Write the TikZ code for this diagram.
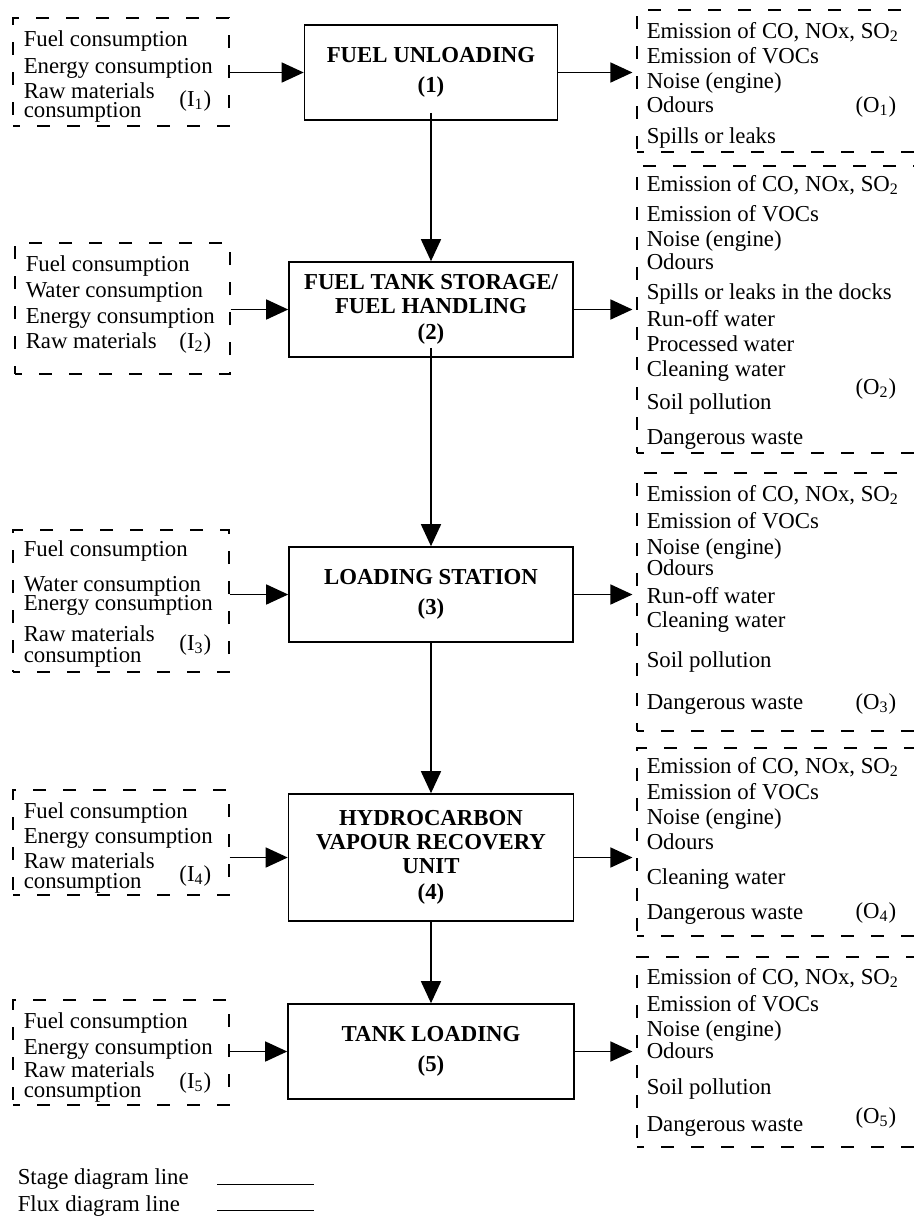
\documentclass[tikz,border=0pt]{standalone}
\usepackage{fontspec}
\setmainfont{Liberation Serif}
\usetikzlibrary{arrows.meta,fit}
\tikzstyle{stage}=[draw,line width=0.8pt,font=\bfseries,align=center,inner sep=0pt]
\tikzstyle{flux}=[draw,line width=0.55pt,dash pattern=on 6.5pt off 8.5pt,dash phase=3pt,inner sep=0pt]
\tikzstyle{item}=[anchor=base west,inner sep=0pt]
\tikzstyle{tag}=[anchor=base east,inner sep=0pt]
\newcommand\emis{Emission of CO, NOx, SO\textsubscript{2}}

\begin{document}
\fontsize{11.4}{13}\selectfont
\begin{tikzpicture}[x=0.5pt,y=-0.5pt,line width=0.75pt,>={Triangle[length=11pt,width=10pt]}]
  \useasboundingbox (0,0) rectangle (914,1217);
  \clip (0,0) rectangle (914,1217);
  % stages
  \node[stage,minimum width=126.5pt,minimum height=47.5pt] (unload) at (431,72.5) {FUEL UNLOADING\\[2pt](1)};
  \node[stage,minimum width=142pt,minimum height=47.5pt] (storage) at (431,309.5) {FUEL TANK STORAGE/\\[-1pt]FUEL HANDLING\\(2)};
  \node[stage,minimum width=142pt,minimum height=47.5pt] (station) at (431,594.5) {LOADING STATION\\[2pt](3)};
  \node[stage,minimum width=142.5pt,minimum height=63.5pt] (recovery) at (431,857.5) {HYDROCARBON\\[-1pt]VAPOUR RECOVERY\\[-1pt]UNIT\\(4)};
  \node[stage,minimum width=143pt,minimum height=47.5pt] (tank) at (431,1051.5) {TANK LOADING\\[2pt](5)};
  % inputs
  \node[flux,fit={(13,18) (229,126)}] (in1) {};
  \node[flux,fit={(15,243) (230,374)}] (in2) {};
  \node[flux,fit={(13,530) (229,672)}] (in3) {};
  \node[flux,fit={(13,790) (229,895)}] (in4) {};
  \node[flux,fit={(13,1000) (229,1105)}] (in5) {};
  \foreach \y/\t [count=\i] in {40/Fuel consumption,67/Energy consumption,92/Raw materials,111/consumption}
    \node[item] (in1-\i) at (23,\y+6) {\t};
  \node[tag] (in1tag) at (212,106) {(I\textsubscript{1})};
  \foreach \y/\t [count=\i] in {265/Fuel consumption,291/Water consumption,317/Energy consumption,342/Raw materials}
    \node[item] (in2-\i) at (25,\y+6) {\t};
  \node[tag] (in2tag) at (212,348) {(I\textsubscript{2})};
  \foreach \y/\t [count=\i] in {550/Fuel consumption,585/Water consumption,604/Energy consumption,635/Raw materials,656/consumption}
    \node[item] (in3-\i) at (23,\y+6) {\t};
  \node[tag] (in3tag) at (212,650) {(I\textsubscript{3})};
  \foreach \y/\t [count=\i] in {812/Fuel consumption,837/Energy consumption,862/Raw materials,882/consumption}
    \node[item] (in4-\i) at (23,\y+6) {\t};
  \node[tag] (in4tag) at (212,881) {(I\textsubscript{4})};
  \foreach \y/\t [count=\i] in {1022/Fuel consumption,1048/Energy consumption,1071/Raw materials,1091/consumption}
    \node[item] (in5-\i) at (23,\y+6) {\t};
  \node[tag] (in5tag) at (212,1088) {(I\textsubscript{5})};
  % outputs
  \node[flux,fit={(637,10) (950,152)}] (out1) {};
  \node[flux,fit={(637,166) (950,453)}] (out2) {};
  \node[flux,fit={(637,473) (950,731)}] (out3) {};
  \node[flux,fit={(637,748) (950,936)}] (out4) {};
  \node[flux,fit={(637,957) (950,1147)}] (out5) {};
  \foreach \y/\t [count=\i] in {32/\emis,57/Emission of VOCs,82/Noise (engine),106/Odours,137/Spills or leaks}
    \node[item] (out1-\i) at (646,\y+6) {\t};
  \node[tag] (out1tag) at (897,112) {(O\textsubscript{1})};
  \foreach \y/\t [count=\i] in {185/\emis,215/Emission of VOCs,240/Noise (engine),263/Odours,293/Spills or leaks in the docks,320/Run-off water,345/Processed water,370/Cleaning water,403/Soil pollution,438/Dangerous waste}
    \node[item] (out2-\i) at (646,\y+6) {\t};
  \node[tag] (out2tag) at (897,394) {(O\textsubscript{2})};
  \foreach \y/\t [count=\i] in {495/\emis,522/Emission of VOCs,548/Noise (engine),569/Odours,597/Run-off water,621/Cleaning water,661/Soil pollution,703/Dangerous waste}
    \node[item] (out3-\i) at (646,\y+6) {\t};
  \node[tag] (out3tag) at (897,709) {(O\textsubscript{3})};
  \foreach \y/\t [count=\i] in {767/\emis,793/Emission of VOCs,818/Noise (engine),843/Odours,878/Cleaning water,913/Dangerous waste}
    \node[item] (out4-\i) at (646,\y+6) {\t};
  \node[tag] (out4tag) at (897,918) {(O\textsubscript{4})};
  \foreach \y/\t [count=\i] in {978/\emis,1005/Emission of VOCs,1030/Noise (engine),1052/Odours,1088/Soil pollution,1125/Dangerous waste}
    \node[item] (out5-\i) at (646,\y+6) {\t};
  \node[tag] (out5tag) at (897,1123) {(O\textsubscript{5})};
  % stage lines
  \draw[->] ([yshift=4pt]unload.south) -- (storage.north);
  \draw[->] ([yshift=5pt]storage.south) -- (station.north);
  \draw[->] (station.south) -- (recovery.north);
  \draw[->] (recovery.south) -- (tank.north);
  % flux lines
  \draw[->] (in1.east |- unload.west) -- (unload.west);
  \draw[->] (in2.east |- storage.west) -- (storage.west);
  \draw[->] (in3.east |- station.west) -- (station.west);
  \draw[->] (in4.east |- recovery.west) -- (recovery.west);
  \draw[->] (in5.east |- tank.west) -- (tank.west);
  \draw[->,shorten >=2pt] (unload.east) -- (unload.east -| out1.west);
  \draw[->,shorten >=2pt] (storage.east) -- (storage.east -| out2.west);
  \draw[->,shorten >=2pt] (station.east) -- (station.east -| out3.west);
  \draw[->,shorten >=2pt] (recovery.east) -- (recovery.east -| out4.west);
  \draw[->,shorten >=2pt] (tank.east) -- (tank.east -| out5.west);
  % key
  \node[item] (stagekey) at (17,1184) {Stage diagram line};
  \node[item] (fluxkey) at (17,1211) {Flux diagram line};
  \coordinate (stagea) at (217,1184);
  \coordinate (stageb) at (314,1184);
  \coordinate (fluxa) at (217,1210);
  \coordinate (fluxb) at (314,1210);
  \draw[line width=0.5pt] (stagea) -- (stageb);
  \draw[line width=0.5pt] (fluxa) -- (fluxb);
\end{tikzpicture}
\end{document}
